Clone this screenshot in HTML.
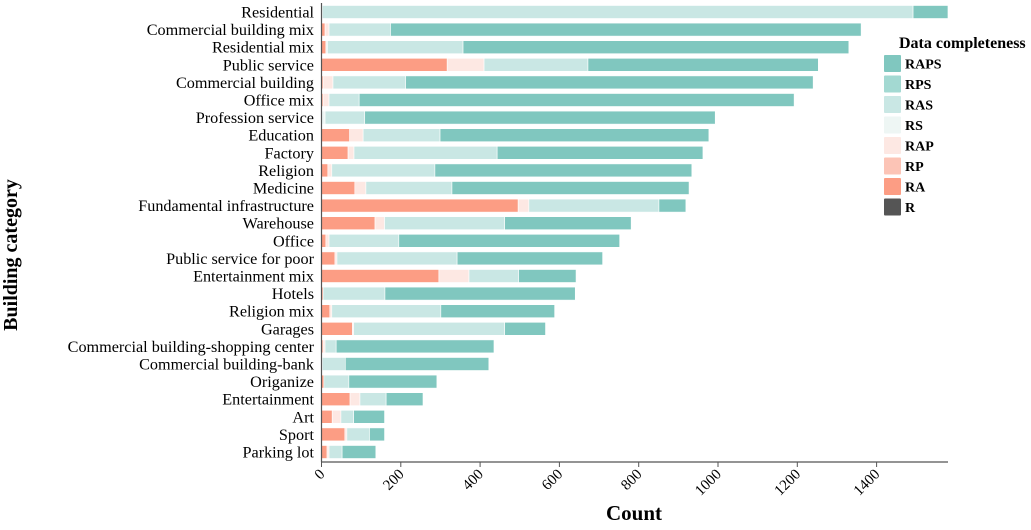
<!DOCTYPE html>
<html><head><meta charset="utf-8"><style>
body{margin:0;background:#fff;width:1031px;height:525px;overflow:hidden}
svg text{font-family:"Liberation Serif",serif}
</style></head><body>
<svg id="c" width="1031" height="525">
<text x="17" y="255" transform="rotate(-90 17 255)" text-anchor="middle" font-size="20" font-weight="bold">Building category</text>
<text x="634" y="520" text-anchor="middle" font-size="21" font-weight="bold">Count</text>
<g id="legend">
<text x="899" y="48" font-size="16" font-weight="bold">Data completeness</text>
</g>
</svg>
<script>
const categories=["Residential","Commercial building mix","Residential mix","Public service","Commercial building","Office mix","Profession service","Education","Factory","Religion","Medicine","Fundamental infrastructure","Warehouse","Office","Public service for poor","Entertainment mix","Hotels","Religion mix","Garages","Commercial building-shopping center","Commercial building-bank","Origanize","Entertainment","Art","Sport","Parking lot"];
const raVals=[2,9,11,317,4,4,0,71,67,16,84,496,135,11,34,296,4,21,78,4,0,6,72,27,59,14];
const rapVals=[0,10,0,93,25,15,0,34,15,10,28,27,24,8,5,76,0,5,3,5,0,0,25,22,5,5];
const rsVals=[0,0,4,0,0,0,9,0,0,0,0,0,0,0,0,0,0,0,0,0,2,0,0,0,0,0];
const rasVals=[1490,155,342,262,183,76,100,194,361,260,217,328,303,176,303,125,156,275,381,28,58,63,66,32,57,33];
const rapsVals=[88,1187,973,581,1028,1097,884,678,519,648,598,68,319,557,367,145,480,287,103,398,362,222,93,78,38,85];
const xTicks=[0,200,400,600,800,1000,1200,1400];
const series=[["RA",raVals,"#fc9d84"],["RAP",rapVals,"#fde8e3"],["RS",rsVals,"#eef6f4"],["RAS",rasVals,"#c9e7e4"],["RAPS",rapsVals,"#80c7bf"]];
const legendItems=[["RAPS","#80c7bf"],["RPS","#a3d9d2"],["RAS","#c9e7e4"],["RS","#eef6f4"],["RAP","#fde8e3"],["RP","#fcc4b6"],["RA","#fc9d84"],["R","#555555"]];
const svg=document.getElementById('c'),NS="http://www.w3.org/2000/svg";
const x0=321.5,k=0.3965;
const X=v=>x0+v*k;
const Y=i=>12+i*17.6;
function mk(t,a){const e=document.createElementNS(NS,t);for(const n in a)e.setAttribute(n,a[n]);svg.appendChild(e);return e;}
categories.forEach((c,i)=>{
  let acc=0;
  series.forEach(([s,vals,col])=>{
    const v=vals[i];
    if(v>0){
      const r=mk('rect',{x:X(acc),y:Y(i)-6.5,width:v*k,height:13,fill:col,stroke:"#fff","stroke-width":0.6});
      
      
    }
    acc+=v;
  });
  const t=mk('text',{x:314,y:Y(i)+5.5,"text-anchor":"end","font-size":16.2});
  t.textContent=c;
  
  
});
const ya=mk('line',{x1:x0,y1:3,x2:x0,y2:462,stroke:"#555","stroke-width":1.2});


const xa=mk('line',{x1:x0,y1:462,x2:948,y2:462,stroke:"#555","stroke-width":1.2});


xTicks.forEach(v=>{
  mk('line',{x1:X(v),y1:462,x2:X(v),y2:467,stroke:"#555"});
  const t=mk('text',{x:X(v)+4,y:475,"text-anchor":"end","font-size":15,transform:`rotate(-45 ${X(v)+4} 475)`});
  t.textContent=v;
  
  
});
legendItems.forEach(([n,col],i)=>{
  const y=55+i*20.5;
  const r=mk('rect',{x:884,y:y,width:17,height:17,fill:col,rx:1});
  
  
  const t=mk('text',{x:905,y:y+13.5,"font-size":14,"font-weight":"bold"});
  t.textContent=n;
  
  
});
</script>
</body></html>
